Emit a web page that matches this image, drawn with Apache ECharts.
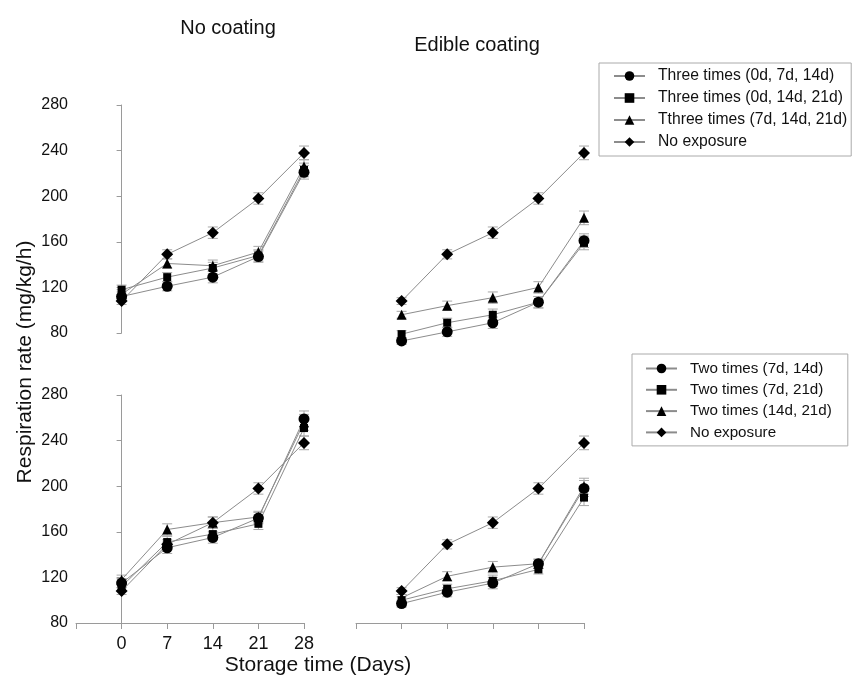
<!DOCTYPE html>
<html><head><meta charset="utf-8">
<script src="https://cdn.jsdelivr.net/npm/echarts@6/dist/echarts.min.js"></script>
<style>html,body{margin:0;padding:0;background:#fff}#c{width:853px;height:677px}</style>
</head><body><div id="c"></div>
<script>
const days = [0, 7, 14, 21, 28];
const yTicks = [80, 120, 160, 200, 240, 280];
const xTicks = [0, 7, 14, 21, 28];

const legendThree = ['Three times (0d, 7d, 14d)', 'Three times (0d, 14d, 21d)', 'Tthree times (7d, 14d, 21d)', 'No exposure'];
const legendTwo = ['Two times (7d, 14d)', 'Two times (7d, 21d)', 'Two times (14d, 21d)', 'No exposure'];

// No exposure (control), same in all panels
const noExposure = [108, 149, 168, 198, 238];
const noExposureErr = [3, 4, 5, 5, 6];

// No coating, three times
const nc3Circle = [112, 121, 129, 147, 221];
const nc3Square = [118, 129, 137, 148, 223];
const nc3Triangle = [114, 141, 139, 151, 226];
const nc3Err = [4, 4, 5, 5, 6];

// Edible coating, three times
const ec3Circle = [73, 81, 89, 107, 161];
const ec3Square = [79, 89, 96, 107, 159];
const ec3Triangle = [96, 104, 111, 120, 181];
const ec3Err = [3, 4, 5, 5, 6];

// No coating, two times
const nc2Circle = [115, 146, 155, 172, 259];
const nc2Square = [112, 151, 158, 167, 251];
const nc2Triangle = [118, 162, 168, 173, 256];
const nc2Err = [4, 5, 5, 5, 7];

// Edible coating, two times
const ec2Circle = [97, 107, 115, 132, 198];
const ec2Square = [100, 110, 117, 127, 190];
const ec2Triangle = [102, 121, 129, 132, 200];
const ec2Err = [3, 4, 5, 4, 7];

const LINE = '#8c8c8c';
const AXIS = '#9a9a9a';
const FONT = 'Liberation Sans, Arial, sans-serif';

const symbols = {circle: ['circle', 11], square: ['rect', 8], triangle: ['triangle', 10], diamond: ['diamond', 12]};

function lineSeries(name, idx, vals, shape) {
  return {
    type: 'line', name, xAxisIndex: idx, yAxisIndex: idx, clip: false,
    data: days.map((d, i) => [d, vals[i]]),
    symbol: symbols[shape][0], symbolSize: symbols[shape][1],
    lineStyle: {color: LINE, width: 1}, itemStyle: {color: '#000'},
    emphasis: {disabled: true}, z: 3
  };
}
function errSeries(idx, vals, errs) {
  return {
    type: 'custom', xAxisIndex: idx, yAxisIndex: idx, silent: true, z: 2,
    data: days.map((d, i) => [d, vals[i] - errs[i], vals[i] + errs[i]]),
    encode: {x: 0, y: [1, 2]},
    renderItem: (params, api) => {
      const lo = api.coord([api.value(0), api.value(1)]);
      const hi = api.coord([api.value(0), api.value(2)]);
      const w = 5, style = {stroke: '#a8a8a8', lineWidth: 1};
      return {type: 'group', children: [
        {type: 'line', shape: {x1: lo[0], y1: lo[1], x2: hi[0], y2: hi[1]}, style},
        {type: 'line', shape: {x1: lo[0] - w, y1: lo[1], x2: lo[0] + w, y2: lo[1]}, style},
        {type: 'line', shape: {x1: hi[0] - w, y1: hi[1], x2: hi[0] + w, y2: hi[1]}, style}
      ]};
    }
  };
}

const panels = [
  {names: legendThree, data: [nc3Circle, nc3Square, nc3Triangle, noExposure], errs: [nc3Err, nc3Err, nc3Err, noExposureErr]},
  {names: legendThree, data: [ec3Circle, ec3Square, ec3Triangle, noExposure], errs: [ec3Err, ec3Err, ec3Err, noExposureErr]},
  {names: legendTwo, data: [nc2Circle, nc2Square, nc2Triangle, noExposure], errs: [nc2Err, nc2Err, nc2Err, noExposureErr]},
  {names: legendTwo, data: [ec2Circle, ec2Square, ec2Triangle, noExposure], errs: [ec2Err, ec2Err, ec2Err, noExposureErr]}
];
const shapes = ['circle', 'square', 'triangle', 'diamond'];

const series = [];
panels.forEach((p, idx) => {
  p.data.forEach((vals, k) => series.push(errSeries(idx, vals, p.errs[k])));
  p.data.forEach((vals, k) => series.push(lineSeries(p.names[k], idx, vals, shapes[k])));
});

const grids = [
  {left: 76, top: 105, width: 228, height: 228},
  {left: 356, top: 105, width: 228, height: 228},
  {left: 76, top: 395, width: 228, height: 228},
  {left: 356, top: 395, width: 228, height: 228}
];

const xAxes = grids.map((g, i) => ({
  gridIndex: i, type: 'value', min: -7, max: 28, interval: 7,
  show: i >= 2,
  axisLine: {show: true, onZero: false, lineStyle: {color: AXIS}},
  axisTick: {show: true, length: 6, lineStyle: {color: AXIS}},
  axisLabel: {show: i === 2, margin: 12, fontSize: 18, color: '#111', fontFamily: FONT,
    formatter: v => (xTicks.indexOf(v) >= 0 ? String(v) : '')},
  splitLine: {show: false}
}));
const yAxes = grids.map((g, i) => ({
  gridIndex: i, type: 'value', min: yTicks[0], max: yTicks[yTicks.length - 1], interval: 40,
  show: i === 0 || i === 2,
  axisLine: {show: true, lineStyle: {color: AXIS}},
  axisTick: {show: true, length: 5, lineStyle: {color: AXIS}},
  axisLabel: {margin: 8, fontSize: 16, color: '#111', fontFamily: FONT},
  splitLine: {show: false}
}));

const legendBase = {
  orient: 'vertical', borderColor: '#aaa', borderWidth: 1, borderRadius: 0,
  itemWidth: 31, itemHeight: 12,
  selectedMode: false
};

const option = {
  animation: false,
  backgroundColor: '#fff',
  grid: grids,
  xAxis: xAxes,
  yAxis: yAxes,
  legend: [
    Object.assign({}, legendBase, {data: legendThree, left: 599, top: 63, itemGap: 6, padding: [5, 4, 6, 14],
      textStyle: {fontSize: 15.7, color: '#111', fontFamily: FONT, padding: [0, 0, 0, 8]}}),
    Object.assign({}, legendBase, {data: legendTwo, left: 632, top: 354, itemGap: 6.3, padding: [7, 16, 6, 13],
      textStyle: {fontSize: 15.2, color: '#111', fontFamily: FONT, padding: [0, 0, 0, 8]}})
  ],
  graphic: [
    {type: 'text', style: {text: 'No coating', fontSize: 20, fontFamily: FONT, fill: '#111', textAlign: 'center', textVerticalAlign: 'middle'}, x: 228, y: 28},
    {type: 'text', style: {text: 'Edible coating', fontSize: 20, fontFamily: FONT, fill: '#111', textAlign: 'center', textVerticalAlign: 'middle'}, x: 477, y: 45},
    {type: 'text', style: {text: 'Respiration rate (mg/kg/h)', fontSize: 21, fontFamily: FONT, fill: '#111', textAlign: 'center', textVerticalAlign: 'middle'}, x: 25, y: 362, rotation: Math.PI / 2},
    {type: 'text', style: {text: 'Storage time (Days)', fontSize: 21, fontFamily: FONT, fill: '#111', textAlign: 'center', textVerticalAlign: 'middle'}, x: 318, y: 665}
  ],
  series
};

const chart = echarts.init(document.getElementById('c'), null, {renderer: 'canvas'});
chart.setOption(option);
</script>
</body></html>
